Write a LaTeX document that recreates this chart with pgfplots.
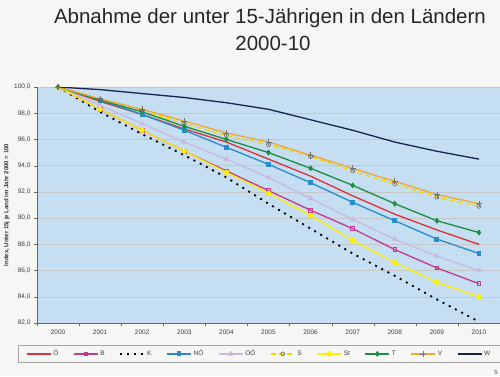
\documentclass[border=0pt]{standalone}
\usepackage{fontspec}
\setmainfont{Liberation Sans}
\usepackage{pgfplots}
\pgfplotsset{compat=1.18}
\usepackage{pgfplotstable}
\definecolor{pagebg}{RGB}{246,246,244}
\definecolor{plotbg}{RGB}{197,222,242}
\definecolor{cO}{RGB}{218,50,58}
\definecolor{cB}{RGB}{196,58,140}
\definecolor{cNO}{RGB}{40,140,205}
\definecolor{cOO}{RGB}{200,185,225}
\definecolor{cS}{RGB}{245,215,0}
\definecolor{cSt}{RGB}{255,240,0}
\definecolor{cT}{RGB}{30,140,65}
\definecolor{cV}{RGB}{240,168,48}
\definecolor{cW}{RGB}{25,35,80}
\pgfplotstableread{
year O B K NO OO S St T V W
2000 100 100 100 100 100 100 100 100 100 100
2001 98.9 98.3 98.1 99.0 98.6 99.0 98.3 99.0 99.1 99.8
2002 97.9 96.7 96.4 97.9 97.2 98.2 96.7 98.1 98.3 99.5
2003 96.8 95.1 94.8 96.7 95.8 97.2 95.1 97.0 97.4 99.2
2004 95.8 93.6 93.1 95.4 94.5 96.3 93.5 96.0 96.5 98.8
2005 94.5 92.1 91.1 94.1 93.1 95.6 91.9 95.0 95.8 98.3
2006 93.2 90.6 89.2 92.7 91.5 94.7 90.2 93.8 94.8 97.5
2007 91.7 89.2 87.3 91.2 89.9 93.6 88.3 92.5 93.8 96.7
2008 90.3 87.6 85.6 89.8 88.4 92.6 86.6 91.1 92.8 95.8
2009 89.1 86.2 83.8 88.4 87.1 91.6 85.1 89.8 91.8 95.1
2010 88.0 85.0 82.1 87.3 86.0 90.9 84.0 88.9 91.1 94.5
}\data
\begin{document}
\begin{tikzpicture}[x=1pt,y=1pt]
\useasboundingbox (0,0) rectangle (500,376);
\fill[pagebg] (0,0) rectangle (500,376);
\node[text=black!85] at (270,358) {\fontsize{20.5}{23}\selectfont Abnahme der unter 15-Jährigen in den Ländern};
\node[text=black!85] at (273,333) {\fontsize{20.5}{23}\selectfont 2000-10};
\node[text=black!70] at (496,4) {\fontsize{6}{7}\selectfont 5};
\begin{axis}[
  at={(37pt,53pt)}, anchor=south west, scale only axis,
  width=463pt, height=236pt,
  axis background/.style={fill=plotbg},
  xmin=1999.5, xmax=2010.5, ymin=82, ymax=100,
  axis lines=left, axis line style={-, gray!80!black},
  xtick={2000,...,2010},
  xticklabels={2000,2001,2002,2003,2004,2005,2006,2007,2008,2009,2010},
  major x tick style={draw=none},
  minor xtick={1999.5,2000.5,...,2010.5},
  minor tick length=3pt, major tick length=3pt,
  tick align=outside,
  ytick={82,84,...,100},
  ymajorgrids, grid style={gray!45, line width=0.4pt},
  tick style={gray!80!black},
  yticklabel style={/pgf/number format/.cd, fixed, fixed zerofill, precision=1, use comma, assume math mode=true},
  tick label style={font=\fontsize{6.5}{7}\selectfont, text=black!75},
  ylabel={\bfseries Index, Unter 15j je Land im Jahr 2000 = 100},
  ylabel style={font=\fontsize{6}{7}\selectfont, text=black!80, anchor=center, at={(axis description cs:-0.065,0.5)}},
  legend columns=10,
  legend image code/.code={\draw[mark repeat=2,mark phase=2,#1] plot coordinates {(0cm,0cm) (0.42cm,0cm) (0.84cm,0cm)};},
  legend style={at={(0.48,-0.094)}, anchor=north, draw=gray!70, fill=pagebg,
    font=\fontsize{6.5}{7}\selectfont, text=black!75,
    /tikz/every even column/.append style={column sep=12.8pt},
    inner xsep=8pt, inner ysep=3pt},
  every axis plot/.append style={line width=1.3pt},
]
\addplot[cO, no marks] table[x=year,y=O]{\data};
\addlegendentry{Ö}
\addplot[cB, mark=square, mark size=1.8pt, mark options={line width=0.8pt}] table[x=year,y=B]{\data};
\addlegendentry{B}
\addplot[black, no marks, line width=1.8pt, dash pattern=on 2pt off 5pt] table[x=year,y=K]{\data};
\addlegendentry{K}
\addplot[cNO, mark=square*, mark size=1.8pt] table[x=year,y=NO]{\data};
\addlegendentry{NÖ}
\addplot[cOO, mark=triangle*, mark size=2pt] table[x=year,y=OO]{\data};
\addlegendentry{OÖ}
\addplot[cS, dash pattern=on 5pt off 3pt, mark=o, mark size=2pt, mark options={draw=black!60, solid, line width=0.6pt}] table[x=year,y=S]{\data};
\addlegendentry{S}
\addplot[cSt, mark=*, mark size=2pt] table[x=year,y=St]{\data};
\addlegendentry{St}
\addplot[cT, mark=diamond*, mark size=2pt] table[x=year,y=T]{\data};
\addlegendentry{T}
\addplot[cV, mark=+, mark size=3pt, mark options={draw=black!55, line width=0.7pt}] table[x=year,y=V]{\data};
\addlegendentry{V}
\addplot[cW, no marks] table[x=year,y=W]{\data};
\addlegendentry{W}
\end{axis}
\end{tikzpicture}
\end{document}
